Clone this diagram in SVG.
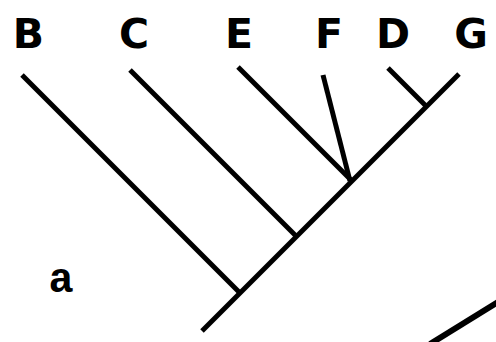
<svg xmlns="http://www.w3.org/2000/svg" width="496" height="342" viewBox="0 0 496 342">
<style>
.lbl{font-family:"DejaVu Sans",sans-serif;font-weight:bold;font-size:41px;fill:#000;text-anchor:middle}
.br{stroke:#000;stroke-width:5;fill:none}
</style>
<rect width="496" height="342" fill="#fff"/>
<g id="labels">
<text class="lbl" x="28.5" y="48">B</text>
<text class="lbl" x="134" y="48">C</text>
<text class="lbl" x="239" y="48">E</text>
<text class="lbl" x="329" y="48">F</text>
<text class="lbl" x="393" y="48">D</text>
<text class="lbl" x="471" y="48">G</text>
</g>
<g id="connectors">
<line class="br" x1="202" y1="331" x2="459" y2="74"/>
<line class="br" x1="22" y1="75" x2="240" y2="293"/>
<line class="br" x1="130" y1="70" x2="296.5" y2="236.5"/>
<line class="br" x1="238" y1="67" x2="352" y2="181"/>
<line class="br" x1="323" y1="75" x2="350" y2="181"/>
<line class="br" x1="388" y1="68" x2="426.5" y2="106.5"/>
<line stroke="#000" stroke-width="6" x1="430" y1="344" x2="498" y2="302"/>
</g>
<text x="61" y="292" font-family="'Liberation Mono',monospace" font-weight="bold" font-size="42" text-anchor="middle">a</text>
</svg>
